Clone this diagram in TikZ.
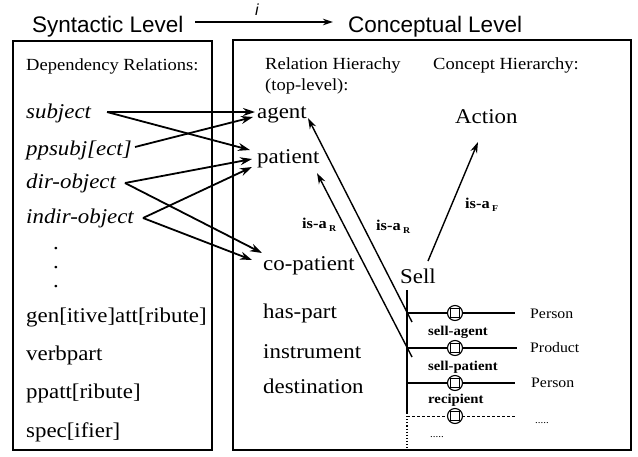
\documentclass[tikz,border=0pt]{standalone}
\usepackage{fontspec}
\setmainfont{Liberation Serif}[FakeStretch=1.09]
\setsansfont{Liberation Sans}
\usetikzlibrary{arrows.meta}
\tikzset{
  lbl/.style={anchor=base west, inner sep=0pt, font=\fontsize{21}{25}\selectfont},
  itl/.style={anchor=base west, inner sep=0pt, font=\fontsize{21}{25}\selectfont\itshape},
  hdr/.style={anchor=base west, inner sep=0pt, font=\fontsize{17}{20}\selectfont},
  sml/.style={anchor=base west, inner sep=0pt, font=\fontsize{13.5}{16}\selectfont\bfseries},
  cls/.style={anchor=base west, inner sep=0pt, font=\fontsize{14.5}{16}\selectfont},
  isalbl/.style={anchor=base west, inner sep=0pt, font=\fontsize{15}{18}\selectfont\bfseries},
  dotlbl/.style={anchor=base west, inner sep=0pt, font=\fontsize{10}{12}\selectfont},
  ttl/.style={anchor=base west, inner sep=0pt, font=\sffamily\fontsize{22.5}{26}\selectfont},
  frame/.style={draw, line width=1.8pt},
  arr/.style={line width=1.8pt, -{Stealth[length=12pt,width=8pt]}},
  isa/.style={line width=1.4pt, -{Stealth[length=11pt,width=7pt]}},
  tarr/.style={line width=1.4pt, -{Stealth[length=10pt,width=6.5pt]}},
  roleline/.style={line width=1.1pt},
  circ/.style={circle, draw, line width=1.1pt, fill=white, minimum size=15pt, inner sep=0pt},
  sqr/.style={rectangle, draw, line width=1pt, minimum size=9pt, inner sep=0pt},
}
\newcommand{\sbs}[1]{\raisebox{-3pt}{\fontsize{9}{10}\selectfont #1}}
\begin{document}
\begin{tikzpicture}[x=1pt, y=-1pt]
\useasboundingbox (0,0) rectangle (638,456);
\fill[white] (0,0) rectangle (638,456);

% title
\node[ttl] (syn) at (32,32) {Syntactic Level};
\node[ttl] (con) at (348,32) {Conceptual Level};
\coordinate (tA) at (195,22);
\coordinate (tB) at (333,22);
\draw[tarr] (tA) -- (tB);
\node[anchor=base, inner sep=0pt, font=\sffamily\itshape\fontsize{16}{18}\selectfont] (ilab) at (257,15) {i};

% frames
\draw[frame] (13,41) rectangle (212,450);
\draw[frame] (233,40) rectangle (631,450);

% left box
\node[hdr] (dep) at (26,70) {Dependency Relations:};
\node[itl] (subj) at (26,118) {subject};
\node[itl] (ppsubj) at (26,155) {ppsubj[ect]};
\node[itl] (dobj) at (26,188) {dir-object};
\node[itl] (iobj) at (26,223) {indir-object};
\node[lbl] (d1) at (53,249) {.};
\node[lbl] (d2) at (53,268) {.};
\node[lbl] (d3) at (53,287) {.};
\node[lbl] (gen) at (26,322) {gen[itive]att[ribute]};
\node[lbl] (verb) at (26,360) {verbpart};
\node[lbl] (ppatt) at (26,398) {ppatt[ribute]};
\node[lbl] (spec) at (26,437) {spec[ifier]};

% right box headers
\node[hdr] (relh) at (265,69) {Relation Hierachy};
\node[hdr] (topl) at (265,90) {(top-level):};
\node[hdr] (conh) at (433,69) {Concept Hierarchy:};

% relations
\node[lbl] (agent) at (257,118) {agent};
\node[lbl] (patient) at (257,163) {patient};
\node[lbl] (copat) at (263,270) {co-patient};
\node[lbl] (haspart) at (263,318) {has-part};
\node[lbl] (instr) at (263,358) {instrument};
\node[lbl] (dest) at (263,393) {destination};

% concepts
\node[lbl] (action) at (455,123) {Action};
\node[lbl] (sell) at (400,283) {Sell};

% left-to-right mapping arrows
\coordinate (subjT) at (107,112);
\coordinate (ppsT) at (135,147);
\coordinate (dobjT) at (125,183);
\coordinate (iobjT) at (143,218);
\coordinate (agA) at (255,112);
\coordinate (agB) at (253,117);
\coordinate (paA) at (250,150);
\coordinate (paB) at (252,159);
\coordinate (paC) at (252,167);
\coordinate (coA) at (262,253);
\coordinate (coB) at (252,260);
\draw[arr] (subjT) -- (agA);
\draw[arr] (subjT) -- (paA);
\draw[arr] (ppsT) -- (agB);
\draw[arr] (dobjT) -- (paB);
\draw[arr] (dobjT) -- (coA);
\draw[arr] (iobjT) -- (paC);
\draw[arr] (iobjT) -- (coB);

% Sell structure
\coordinate (vTop) at (407,290);
\coordinate (vMid) at (407,413);
\coordinate (vBot) at (407,450);
\draw[roleline] (vTop) -- (vMid);
\draw[roleline, dotted, line width=1.4pt] (vMid) -- (vBot);

\coordinate (r1L) at (407,313); \coordinate (r1R) at (515,313);
\coordinate (r2L) at (407,348); \coordinate (r2R) at (517,348);
\coordinate (r3L) at (407,383); \coordinate (r3R) at (515,383);
\coordinate (r4L) at (407,416); \coordinate (r4R) at (515,416);
\draw[roleline] (r1L) -- (r1R);
\draw[roleline] (r2L) -- (r2R);
\draw[roleline] (r3L) -- (r3R);
\draw[roleline, dashed, line width=0.9pt, dash pattern=on 3pt off 2pt] (r4L) -- (r4R);
\node[circ] (c1) at (455,313) {}; \node[sqr] at (c1.center) {};
\node[circ] (c2) at (455,348) {}; \node[sqr] at (c2.center) {};
\node[circ] (c3) at (455,383) {}; \node[sqr] at (c3.center) {};
\node[circ] (c4) at (455,416) {}; \node[sqr] at (c4.center) {};

\node[cls] (pers1) at (530,318) {Person};
\node[cls] (prod) at (530,352) {Product};
\node[cls] (pers2) at (531,387) {Person};
\node[dotlbl] (more1) at (535,423) {.....};
\node[sml] (sagent) at (428,335) {sell-agent};
\node[sml] (spat) at (428,370) {sell-patient};
\node[sml] (recip) at (428,403) {recipient};
\node[dotlbl] (more2) at (430,437) {.....};

% is-a arrows
\coordinate (isaT1) at (412,322);
\coordinate (isaT2) at (412,357);
\coordinate (agTip) at (308,118);
\coordinate (paTip) at (317,173);
\coordinate (acT) at (428,261);
\coordinate (acTip) at (478,142);
\draw[isa] (isaT1) -- (agTip);
\draw[isa] (isaT2) -- (paTip);
\draw[isa] (acT) -- (acTip);
\node[isalbl] (isaF) at (465,208) {is-a\,\sbs{F}};
\node[isalbl] (isaR1) at (302,228) {is-a\,\sbs{R}};
\node[isalbl] (isaR2) at (376,230) {is-a\,\sbs{R}};
\end{tikzpicture}
\end{document}
